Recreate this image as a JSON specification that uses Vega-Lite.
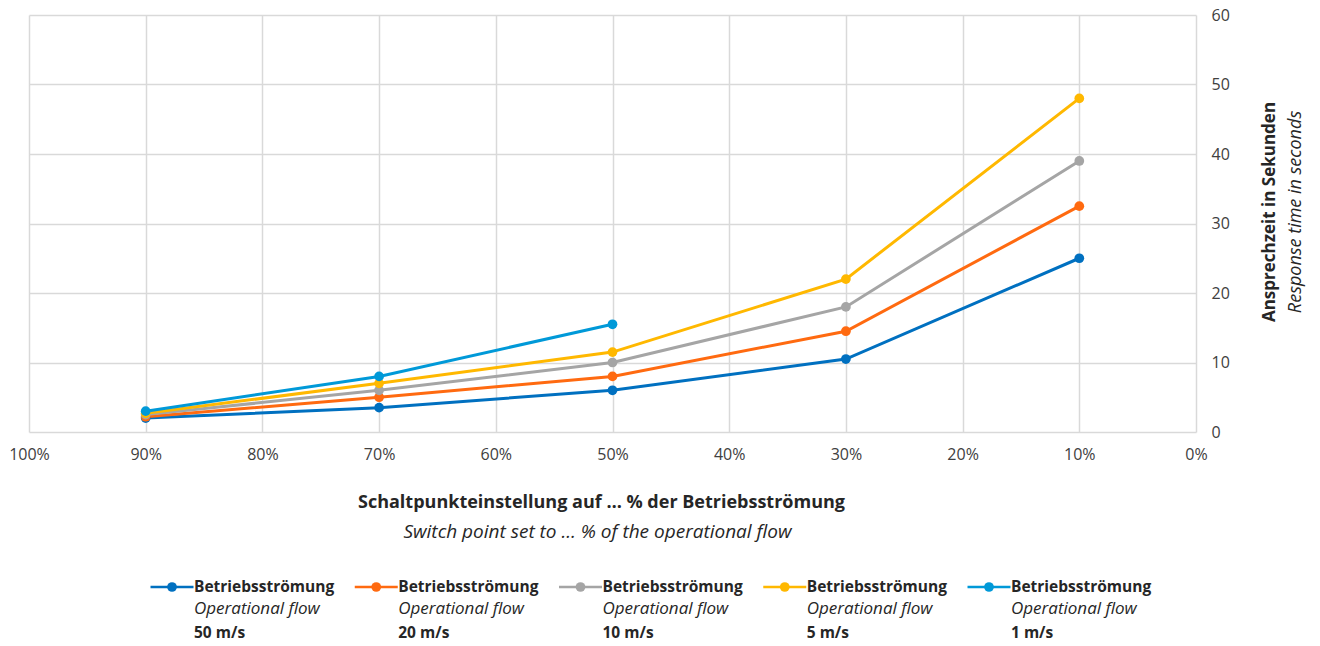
{
  "$schema": "https://vega.github.io/schema/vega-lite/v6.json",
  "padding": {"left": 8, "top": 7, "right": 5, "bottom": 0},
  "bounds": "flush",
  "spacing": 147,
  "background": "white",
  "config": {"view": {"stroke": null}, "font": "Open Sans"},
  "vconcat": [
    {
      "width": 1167,
      "height": 417,
      "data": {"values": [
        {"series": "50 m/s", "pct": 90, "val": 2.0},
        {"series": "50 m/s", "pct": 70, "val": 3.5},
        {"series": "50 m/s", "pct": 50, "val": 6.0},
        {"series": "50 m/s", "pct": 30, "val": 10.5},
        {"series": "50 m/s", "pct": 10, "val": 25.0},
        {"series": "20 m/s", "pct": 90, "val": 2.2},
        {"series": "20 m/s", "pct": 70, "val": 5.0},
        {"series": "20 m/s", "pct": 50, "val": 8.0},
        {"series": "20 m/s", "pct": 30, "val": 14.5},
        {"series": "20 m/s", "pct": 10, "val": 32.5},
        {"series": "10 m/s", "pct": 90, "val": 2.5},
        {"series": "10 m/s", "pct": 70, "val": 6.0},
        {"series": "10 m/s", "pct": 50, "val": 10.0},
        {"series": "10 m/s", "pct": 30, "val": 18.0},
        {"series": "10 m/s", "pct": 10, "val": 39.0},
        {"series": "5 m/s", "pct": 90, "val": 2.7},
        {"series": "5 m/s", "pct": 70, "val": 7.0},
        {"series": "5 m/s", "pct": 50, "val": 11.5},
        {"series": "5 m/s", "pct": 30, "val": 22.0},
        {"series": "5 m/s", "pct": 10, "val": 48.0},
        {"series": "1 m/s", "pct": 90, "val": 3.0},
        {"series": "1 m/s", "pct": 70, "val": 8.0},
        {"series": "1 m/s", "pct": 50, "val": 15.5}
      ]},
      "layer": [
        {
          "encoding": {
            "x": {"field": "pct", "type": "quantitative",
              "scale": {"domain": [0, 100], "reverse": true, "nice": false, "zero": false},
              "axis": {"values": [0,10,20,30,40,50,60,70,80,90,100], "labelExpr": "datum.value + '%'",
                "labelFlush": false, "labelOverlap": false,
                "grid": true, "gridColor": "#d9d9d9", "gridWidth": 1.5, "domain": false, "ticks": false,
                "labelFontSize": 16, "labelColor": "#404040", "labelPadding": 14, "labelFont": "Open Sans",
                "title": "Schaltpunkteinstellung auf … % der Betriebsströmung", "titleX": 572,
                "titleFontSize": 18, "titleFontWeight": "bold", "titleColor": "#262626", "titlePadding": 31, "titleFont": "Open Sans"}},
            "y": {"field": "val", "type": "quantitative",
              "scale": {"domain": [0, 60], "nice": false},
              "axis": {"orient": "right", "values": [0,10,20,30,40,50,60],
                "grid": true, "gridColor": "#d9d9d9", "gridWidth": 1.5, "domain": false, "ticks": false,
                "labelFontSize": 16, "labelColor": "#404040", "labelPadding": 15, "labelFont": "Open Sans",
                "title": "Ansprechzeit in Sekunden", "titleAngle": 270, "titleY": 196.5,
                "titleFontSize": 17, "titleFontWeight": "bold", "titleColor": "#262626", "titlePadding": 49, "titleFont": "Open Sans"}},
            "color": {"field": "series", "type": "nominal", "sort": null,
              "scale": {"domain": ["50 m/s", "20 m/s", "10 m/s", "5 m/s", "1 m/s"],
                "range": ["#0070c0", "#ff6a10", "#a5a5a5", "#ffb800", "#0099d8"]},
              "legend": null}
          },
          "layer": [
            {"mark": {"type": "line", "strokeWidth": 3}},
            {"mark": {"type": "point", "filled": true, "size": 95, "opacity": 1}}
          ]
        },
        {
          "mark": {"type": "point", "opacity": 0},
          "encoding": {
            "x": {"field": "pct", "type": "quantitative",
              "scale": {"domain": [0, 100], "reverse": true, "nice": false, "zero": false},
              "axis": {"orient": "bottom", "labels": false, "ticks": false, "domain": false, "grid": false,
                "title": "Switch point set to … % of the operational flow", "titleX": 568,
                "titleFontSize": 19, "titleFontWeight": "normal", "titleFontStyle": "italic", "titleColor": "#262626", "titlePadding": 90, "titleFont": "Open Sans"}},
            "y": {"field": "val", "type": "quantitative",
              "scale": {"domain": [0, 60], "nice": false},
              "axis": {"orient": "right", "labels": false, "ticks": false, "domain": false, "grid": false,
                "title": "Response time in seconds", "titleAngle": 270, "titleY": 196.5,
                "titleFontSize": 18, "titleFontWeight": "normal", "titleFontStyle": "italic", "titleColor": "#262626", "titlePadding": 108, "titleFont": "Open Sans"}}
          }
        }
      ],
      "resolve": {"scale": {"x": "independent", "y": "independent"}}
    },
    {
      "width": 1167,
      "height": 16,
      "data": {"values": [
        {"series": "50 m/s"},
        {"series": "20 m/s"},
        {"series": "10 m/s"},
        {"series": "5 m/s"},
        {"series": "1 m/s"}
      ]},
      "encoding": {
        "x": {"field": "series", "type": "nominal", "sort": null,
          "scale": {"type": "point", "padding": 0.8568, "align": 0.4086}, "axis": null}
      },
      "layer": [
        {"mark": {"type": "tick", "orient": "horizontal", "size": 43, "thickness": 2.5, "opacity": 1},
         "encoding": {"color": {"field": "series", "type": "nominal", "sort": null,
           "scale": {"domain": ["50 m/s", "20 m/s", "10 m/s", "5 m/s", "1 m/s"],
             "range": ["#0070c0", "#ff6a10", "#a5a5a5", "#ffb800", "#0099d8"]}, "legend": null}}},
        {"mark": {"type": "point", "filled": true, "size": 95, "opacity": 1},
         "encoding": {"color": {"field": "series", "type": "nominal", "sort": null,
           "scale": {"domain": ["50 m/s", "20 m/s", "10 m/s", "5 m/s", "1 m/s"],
             "range": ["#0070c0", "#ff6a10", "#a5a5a5", "#ffb800", "#0099d8"]}, "legend": null}}},
        {"mark": {"type": "text", "text": "Betriebsströmung", "align": "left", "baseline": "middle", "dx": 22, "dy": 0,
          "fontSize": 15.5, "fontWeight": "bold", "color": "#262626", "font": "Open Sans"}},
        {"mark": {"type": "text", "text": "Operational flow", "align": "left", "baseline": "middle", "dx": 22, "dy": 22,
          "fontSize": 17, "fontStyle": "italic", "color": "#262626", "font": "Open Sans"}},
        {"mark": {"type": "text", "align": "left", "baseline": "middle", "dx": 22, "dy": 46,
          "fontSize": 15.5, "fontWeight": "bold", "color": "#262626", "font": "Open Sans"},
         "encoding": {"text": {"field": "series", "type": "nominal"}}}
      ]
    }
  ]
}
